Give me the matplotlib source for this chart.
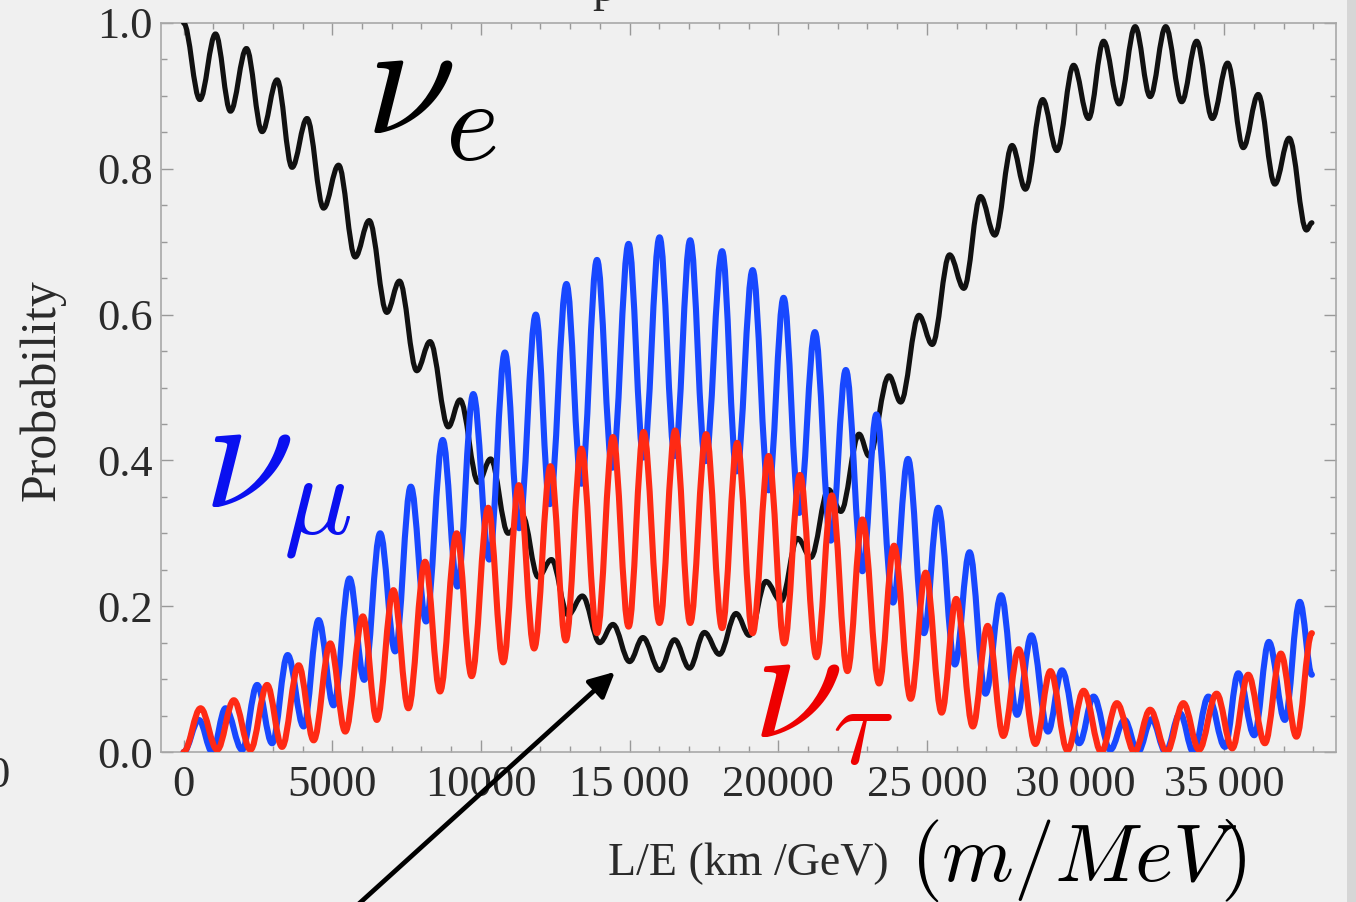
import matplotlib
matplotlib.use("Agg")
import matplotlib.pyplot as plt
from matplotlib.path import Path
from matplotlib.patches import PathPatch, FancyArrowPatch, Rectangle
from matplotlib.ticker import MultipleLocator, FixedLocator, FixedFormatter

# ---------------- data: local extrema (peaks / troughs) ----------------
# P(nu_e -> nu_e)  (black)
ve_x = [0, 547, 1074, 1577, 2114, 2641, 3144, 3648, 4151, 4709, 5212, 5772, 6242, 6835, 7260,
        7843, 8289, 8904, 9296, 9911, 10326, 10918, 11400, 11925, 12373, 12931, 13413, 13995,
        14441, 15001, 15448, 16008, 16512, 17015, 17518, 18022, 18581, 19029, 19588, 20092,
        20650, 21098, 21690, 22106, 22720, 23055, 23727, 24119, 24733, 25180, 25764, 26243,
        26803, 27284, 27865, 28314, 28895, 29375, 29935, 30438, 30942, 31468, 32005, 32509,
        33033, 33570, 34073, 34600, 35114, 35640, 36144, 36703, 37184, 37765, 37950]
ve_y = [1.000, 0.895, 0.985, 0.879, 0.965, 0.851, 0.922, 0.802, 0.869, 0.746, 0.805, 0.679,
        0.729, 0.603, 0.646, 0.523, 0.563, 0.446, 0.483, 0.370, 0.402, 0.300, 0.324, 0.240,
        0.264, 0.188, 0.214, 0.150, 0.175, 0.124, 0.157, 0.112, 0.154, 0.115, 0.164, 0.134,
        0.190, 0.160, 0.234, 0.207, 0.293, 0.267, 0.360, 0.330, 0.436, 0.406, 0.516, 0.480,
        0.599, 0.559, 0.682, 0.636, 0.762, 0.709, 0.832, 0.772, 0.895, 0.825, 0.942, 0.869,
        0.975, 0.889, 0.995, 0.899, 0.995, 0.892, 0.975, 0.869, 0.945, 0.829, 0.902, 0.779,
        0.842, 0.716, 0.726]

# P(nu_e -> nu_mu)  (blue)
vmu_x = [0, 515, 962, 1410, 1969, 2473, 2977, 3500, 4037, 4541, 5044, 5581, 6074, 6611, 7115,
         7641, 8155, 8715, 9207, 9743, 10280, 10806, 11286, 11847, 12317, 12877, 13380, 13904,
         14420, 14967, 15471, 16008, 16522, 17038, 17552, 18112, 18602, 19139, 19676, 20180,
         20706, 21233, 21770, 22274, 22831, 23301, 23862, 24365, 24902, 25382, 25942, 26435,
         26972, 27496, 28033, 28515, 29073, 29543, 30126, 30606, 31166, 31647, 32100, 32560,
         33030, 33515, 33963, 34466, 35026, 35472, 36009, 36502, 37039, 37542, 37950]
vmu_y = [0.000, 0.044, 0.000, 0.060, 0.003, 0.092, 0.012, 0.133, 0.035, 0.181, 0.064, 0.238,
         0.099, 0.300, 0.138, 0.364, 0.179, 0.428, 0.227, 0.491, 0.264, 0.548, 0.307, 0.600,
         0.340, 0.642, 0.368, 0.675, 0.390, 0.697, 0.404, 0.706, 0.406, 0.702, 0.399, 0.687,
         0.385, 0.661, 0.359, 0.623, 0.328, 0.576, 0.290, 0.524, 0.248, 0.463, 0.205, 0.402,
         0.163, 0.335, 0.120, 0.274, 0.080, 0.215, 0.051, 0.160, 0.028, 0.112, 0.012, 0.076,
         0.003, 0.044, 0.000, 0.045, 0.000, 0.053, 0.000, 0.076, 0.007, 0.108, 0.023, 0.151,
         0.044, 0.206, 0.106]

# P(nu_e -> nu_tau)  (red)
vtau_x = [0, 571, 1130, 1689, 2248, 2808, 3311, 3870, 4374, 4933, 5437, 6030, 6500, 7058, 7561,
          8122, 8625, 9185, 9688, 10246, 10750, 11276, 11790, 12340, 12853, 13380, 13904, 14441,
          14967, 15471, 16008, 16535, 17038, 17575, 18112, 18620, 19139, 19676, 20203, 20730,
          21287, 21803, 22327, 22831, 23391, 23895, 24455, 24958, 25495, 25985, 26546, 27043,
          27570, 28089, 28650, 29154, 29728, 30271, 30865, 31389, 31983, 32509, 33067, 33627,
          34153, 34744, 35271, 35808, 36368, 36905, 37429, 37950]
vtau_y = [0.000, 0.060, 0.003, 0.071, 0.003, 0.092, 0.007, 0.119, 0.016, 0.149, 0.028, 0.186,
          0.044, 0.222, 0.060, 0.261, 0.083, 0.300, 0.104, 0.335, 0.123, 0.366, 0.142, 0.392,
          0.153, 0.416, 0.163, 0.432, 0.172, 0.439, 0.177, 0.441, 0.177, 0.436, 0.170, 0.424,
          0.163, 0.406, 0.149, 0.380, 0.130, 0.352, 0.111, 0.319, 0.094, 0.283, 0.073, 0.246,
          0.054, 0.210, 0.035, 0.173, 0.022, 0.141, 0.011, 0.111, 0.002, 0.084, 0.000, 0.067,
          0.000, 0.058, 0.000, 0.067, 0.003, 0.080, 0.005, 0.106, 0.012, 0.135, 0.021, 0.163]

xticks = [0, 5000, 10000, 15000, 20000, 25000, 30000, 35000]
xticklabels = ["0", "5000", "10000", "15\u2009000", "20000", "25\u2009000", "30\u2009000", "35\u2009000"]
yticks = [0.0, 0.2, 0.4, 0.6, 0.8, 1.0]
yticklabels = ["0.0", "0.2", "0.4", "0.6", "0.8", "1.0"]

# ---------------- figure ----------------
W, H = 1356, 902
DPI = 100
plt.rcParams["mathtext.fontset"] = "cm"
SERIF = ["Liberation Serif", "DejaVu Serif"]
BG = "#f0f0f0"

fig = plt.figure(figsize=(W / DPI, H / DPI), dpi=DPI, facecolor=BG)


def fx(px):
    return px / W


def fy(py):
    return 1 - py / H


ax = fig.add_axes([fx(161), fy(752), (1336 - 161) / W, (752 - 23) / H], facecolor=BG)
ax.set_xlim(-760, 38760)
ax.set_ylim(0, 1.0)


def wave_path(xs, ys, k=0.3634):
    """Smooth curve through successive extrema (horizontal tangent at each)."""
    verts = [(xs[0], ys[0])]
    codes = [Path.MOVETO]
    for i in range(len(xs) - 1):
        x0, y0, x1, y1 = xs[i], ys[i], xs[i + 1], ys[i + 1]
        d = x1 - x0
        verts += [(x0 + k * d, y0), (x1 - k * d, y1), (x1, y1)]
        codes += [Path.CURVE4] * 3
    return Path(verts, codes)


for xs, ys, col, lw, z in [(ve_x, ve_y, "#111111", 3.7, 3),
                           (vmu_x, vmu_y, "#1848ff", 4.4, 4),
                           (vtau_x, vtau_y, "#ff2a14", 4.4, 5)]:
    patch = PathPatch(wave_path(xs, ys), facecolor="none", edgecolor=col, lw=lw,
                      transform=ax.transData, zorder=z, capstyle="round", joinstyle="round")
    ax.add_patch(patch)

# axes styling
for s in ax.spines.values():
    s.set_color("#a8a8a8")
    s.set_linewidth(1.2)
ax.xaxis.set_major_locator(FixedLocator(xticks))
ax.xaxis.set_major_formatter(FixedFormatter(xticklabels))
ax.xaxis.set_minor_locator(MultipleLocator(1000))
ax.yaxis.set_major_locator(FixedLocator(yticks))
ax.yaxis.set_major_formatter(FixedFormatter(yticklabels))
ax.yaxis.set_minor_locator(MultipleLocator(0.05))
ax.tick_params(which="both", direction="in", top=True, right=True, color="#999999",
               width=1.0)
ax.tick_params(which="major", length=8.5)
ax.tick_params(which="minor", length=4.5)
ax.tick_params(axis="x", which="major", pad=9, labelsize=32, labelcolor="#2a2a2a")
ax.tick_params(axis="y", which="major", pad=6, labelsize=32, labelcolor="#2a2a2a")
for lab in ax.get_xticklabels() + ax.get_yticklabels():
    lab.set_family(SERIF)

# axis titles
fig.text(fx(42), fy(390), "Probability", rotation=90, ha="center", va="center",
         fontsize=36, family=SERIF, color="#2a2a2a")
fig.text(fx(748), fy(875), "L/E (km /GeV)", ha="center", va="baseline",
         fontsize=33, family=SERIF, color="#2a2a2a")
fig.text(fx(910), fy(881), r"$(m/MeV)$", ha="left", va="baseline", fontsize=59, color="black")

# curve labels
fig.text(fx(365), fy(133), r"$\nu_e$", ha="left", va="baseline", fontsize=118, color="black")
fig.text(fx(203), fy(507), r"$\nu_\mu$", ha="left", va="baseline", fontsize=118, color="#0a10f0")
fig.text(fx(752), fy(737), r"$\nu_\tau$", ha="left", va="baseline", fontsize=118, color="#ee0000")

# arrow pointing at the nu_e minimum
arrow = FancyArrowPatch((fx(352), fy(910)), (fx(617), fy(670)), transform=fig.transFigure,
                        arrowstyle="-|>", mutation_scale=38, lw=3.4, color="black")
fig.patches.append(arrow)

# fragments of neighbouring slide content at the edges
fig.text(fx(-2), fy(776), "0", ha="center", va="center", fontsize=32, family=SERIF,
         color="#2a2a2a")
fig.text(fx(592), fy(1), "p", ha="left", va="baseline", fontsize=34, family=SERIF,
         color="#2a2a2a")
fig.patches.append(Rectangle((fx(1347), 0), fx(9), 1, transform=fig.transFigure,
                             facecolor="#d6d6d6", edgecolor="none"))

fig.savefig("out.png", dpi=DPI, facecolor=BG)
